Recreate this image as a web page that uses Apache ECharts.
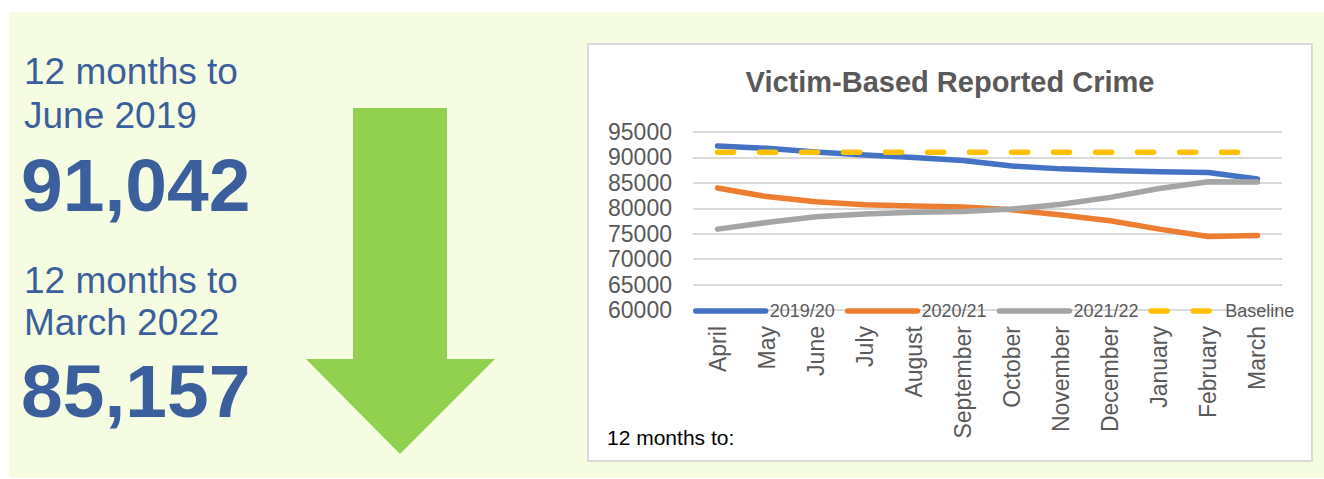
<!DOCTYPE html>
<html>
<head>
<meta charset="utf-8">
<script src="https://cdn.jsdelivr.net/npm/echarts@6/dist/echarts.min.js"></script>
<style>
  html, body { margin: 0; padding: 0; background: #ffffff; }
  #main { width: 1324px; height: 479px; }
</style>
</head>
<body>
<div id="main"></div>
<script>
// 月份（X 轴）
var months = ['April', 'May', 'June', 'July', 'August', 'September', 'October',
  'November', 'December', 'January', 'February', 'March'];
var seriesNames = ['2019/20', '2020/21', '2021/22', 'Baseline'];
var crime1920 = [92250, 91800, 91050, 90500, 90000, 89400, 88300, 87750, 87450, 87200, 87050, 85750];
var crime2021 = [84000, 82300, 81300, 80700, 80450, 80250, 79700, 78700, 77550, 75900, 74450, 74650];
var crime2122 = [75900, 77200, 78350, 78900, 79200, 79350, 79850, 80800, 82150, 83900, 85200, 85157];
var baseline = [91042, 91042, 91042, 91042, 91042, 91042, 91042, 91042, 91042, 91042, 91042, 91042];
var yTicks = [60000, 65000, 70000, 75000, 80000, 85000, 90000, 95000];

// 左侧文字
var headline1 = ['12 months to', 'June 2019', '91,042'];
var headline2 = ['12 months to', 'March 2022', '85,157'];

var chartDom = document.getElementById('main');
var myChart = echarts.init(chartDom, null, { renderer: 'svg' });

var textBlue = '#3B5F9D';
var grey = '#595959';
var fontFam = '"Liberation Sans", Arial, sans-serif';

function lineSeries(name, data, color, dashed) {
  return {
    name: name,
    type: 'line',
    data: data,
    symbol: 'none',
    smooth: false,
    color: color,
    lineStyle: {
      width: 5.5,
      color: color,
      cap: 'round',
      join: 'round',
      type: dashed ? [16, 26] : 'solid'
    },
    emphasis: { disabled: true }
  };
}

var option = {
  animation: false,
  grid: {
    left: 693,
    right: 42,
    top: 132,
    bottom: 169,
    containLabel: false,
    outerBoundsMode: 'none'
  },
  legend: {
    data: seriesNames,
    left: 688,
    top: 297,
    itemWidth: 70,
    itemHeight: 14,
    itemGap: 10,
    itemStyle: { opacity: 0 },   // 去掉图例里的圆点
    lineStyle: { width: 5.5, cap: 'round' },
    textStyle: {
      color: grey,
      fontSize: 18,
      fontFamily: fontFam,
      padding: [0, 0, 0, -1]
    }
  },
  xAxis: {
    type: 'category',
    data: months,
    boundaryGap: true,
    axisLine: { show: false },
    axisTick: { show: false },
    axisLabel: {
      rotate: 90,
      interval: 0,
      margin: 16,
      color: grey,
      fontSize: 23,
      fontFamily: fontFam
    },
    splitLine: { show: false }
  },
  yAxis: {
    type: 'value',
    min: yTicks[0],
    max: yTicks[yTicks.length - 1],
    interval: yTicks[1] - yTicks[0],
    axisLine: { show: false },
    axisTick: { show: false },
    axisLabel: {
      margin: 21,
      color: grey,
      fontSize: 23,
      fontFamily: fontFam,
      formatter: function (v) { return String(v); }
    },
    splitLine: {
      show: true,
      lineStyle: { color: '#D9D9D9', width: 2 }
    }
  },
  series: [
    lineSeries(seriesNames[0], crime1920, '#4472C4', false),
    lineSeries(seriesNames[1], crime2021, '#ED7D31', false),
    lineSeries(seriesNames[2], crime2122, '#A5A5A5', false),
    lineSeries(seriesNames[3], baseline, '#FFC000', true)
  ],
  graphic: {
    elements: [
      // 浅绿色背景面板
      {
        type: 'rect', z: -10, silent: true,
        shape: { x: 9, y: 12, width: 1315, height: 466 },
        style: { fill: '#F5FCE2' }
      },
      // 图表白色框
      {
        type: 'rect', z: -9, silent: true,
        shape: { x: 588, y: 44, width: 724, height: 417 },
        style: { fill: '#ffffff', stroke: '#D9D9D9', lineWidth: 2 }
      },
      // 绿色向下箭头
      {
        type: 'polygon', z: -8, silent: true,
        shape: {
          points: [[353, 108], [447, 108], [447, 359], [495, 359], [400, 454], [306, 359], [353, 359]]
        },
        style: { fill: '#92D050' }
      },
      {
        type: 'text', x: 950, y: 82, silent: true,
        style: {
          text: 'Victim-Based Reported Crime',
          fill: grey,
          font: 'bold 29px ' + fontFam,
          textAlign: 'center',
          textVerticalAlign: 'middle'
        }
      },
      {
        type: 'text', x: 607, y: 448, silent: true,
        style: {
          text: '12 months to:',
          fill: '#000000',
          font: '21px ' + fontFam,
          textVerticalAlign: 'bottom'
        }
      },
      {
        type: 'text', x: 24, y: 90, silent: true,
        style: { text: headline1[0], fill: textBlue, font: '37px ' + fontFam, textVerticalAlign: 'bottom' }
      },
      {
        type: 'text', x: 24, y: 134, silent: true,
        style: { text: headline1[1], fill: textBlue, font: '37px ' + fontFam, textVerticalAlign: 'bottom' }
      },
      {
        type: 'text', x: 21, y: 222, silent: true,
        style: { text: headline1[2], fill: textBlue, font: 'bold 75px ' + fontFam, textVerticalAlign: 'bottom' }
      },
      {
        type: 'text', x: 24, y: 299, silent: true,
        style: { text: headline2[0], fill: textBlue, font: '37px ' + fontFam, textVerticalAlign: 'bottom' }
      },
      {
        type: 'text', x: 24, y: 341, silent: true,
        style: { text: headline2[1], fill: textBlue, font: '37px ' + fontFam, textVerticalAlign: 'bottom' }
      },
      {
        type: 'text', x: 21, y: 428, silent: true,
        style: { text: headline2[2], fill: textBlue, font: 'bold 75px ' + fontFam, textVerticalAlign: 'bottom' }
      }
    ]
  }
};

myChart.setOption(option);
window.addEventListener('resize', function () {
  myChart.resize();
});
</script>
</body>
</html>
